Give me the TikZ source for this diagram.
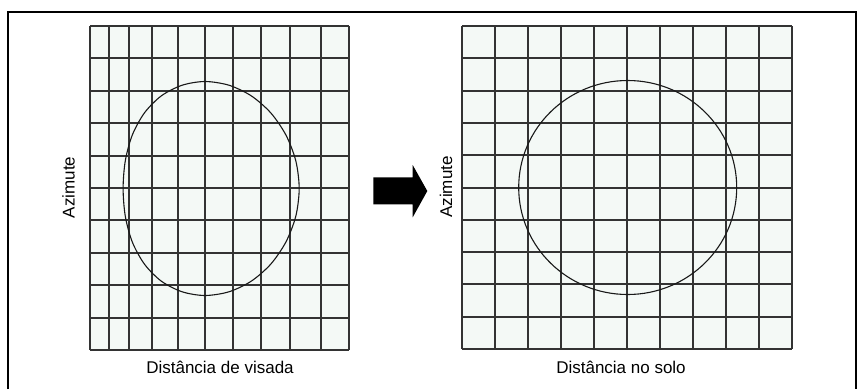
\documentclass[tikz,border=0pt]{standalone}
\usepackage{fontspec}
\setmainfont{Liberation Sans}
\definecolor{cellfill}{RGB}{244,249,246}

\begin{document}
\begin{tikzpicture}[x=1pt,y=-1pt,every node/.style={font=\fontsize{17}{20}\selectfont,inner sep=0pt},gridline/.style={line width=2pt,black!80},outline/.style={line width=1.1pt,black!90},axlabel/.style={rotate=90}]
\useasboundingbox (0,0) rectangle (859,389);
\draw[line width=2pt] (8,389)--(8,12)--(856,12)--(856,389);
% left: slant range grid, near columns narrower
\fill[cellfill] (90,26) rectangle (349,350);
\foreach \x in {90,109,129,152,178,205,233,261,290,321,349} \draw[gridline] (\x,26)--(\x,350);
\foreach \k in {0,...,10} \draw[gridline] (90,{round(26+32.4*\k)})--(349,{round(26+32.4*\k)});
\draw[outline] plot[smooth cycle] coordinates {(299.2,188.5) (295.8,160.8) (285.9,135.0) (270.7,112.8) (251.2,95.8) (228.9,85.2) (205.0,81.5) (182.2,85.2) (161.4,95.8) (144.5,112.8) (132.3,135.0) (125.3,160.8) (123.1,188.5) (125.3,216.2) (132.3,242.0) (144.5,264.2) (161.4,281.2) (182.2,291.8) (205.0,295.5) (228.9,291.8) (251.2,281.2) (270.7,264.2) (285.9,242.0) (295.8,216.2)};
\node[axlabel] (lazim) at (68.5,187.5) {Azimute};
\node (lrange) at (220,367) {Distância de visada};
% arrow
\fill (373.3,177.3)--(412.7,177.3)--(412.7,165)--(427.3,191)--(412.7,217.3)--(412.7,204.3)--(373.3,204.3)--cycle;
% right: ground range grid
\fill[cellfill] (462,26) rectangle (792,349);
\foreach \k in {0,...,10} \draw[gridline] ({462+33*\k},26)--({462+33*\k},349);
\foreach \k in {0,...,10} \draw[gridline] (462,{round(26+32.3*\k)})--(792,{round(26+32.3*\k)});
\draw[outline] (627.7,187.5) ellipse [x radius=109,y radius=107];
\node[axlabel] (razim) at (446,187) {Azimute};
\node (rrange) at (621,367) {Distância no solo};
\end{tikzpicture}
\end{document}
